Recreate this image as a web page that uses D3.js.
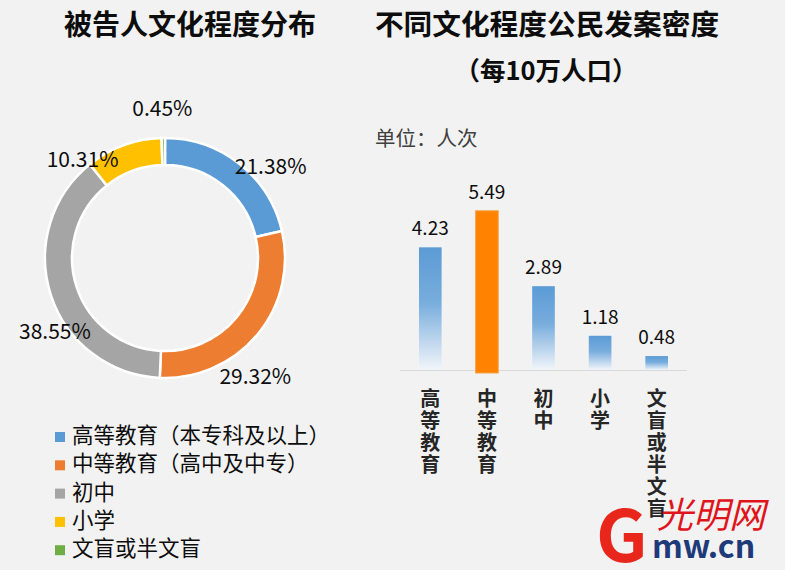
<!DOCTYPE html>
<html><head><meta charset="utf-8">
<script src="https://cdn.jsdelivr.net/npm/d3@7"></script>
<style>
html,body{margin:0;padding:0;background:#F2F2F2;}
svg{display:block;}
text{font-family:"Noto Sans CJK SC","Noto Sans",sans-serif;}
</style></head>
<body>
<svg id="c" width="785" height="570"></svg>
<script>
// ---------- data ----------
const pieCategories = ["高等教育（本专科及以上）","中等教育（高中及中专）","初中","小学","文盲或半文盲"];
const pieValues = [21.38, 29.32, 38.55, 10.31, 0.45];
const pieColors = ["#5B9BD5","#ED7D31","#A5A5A5","#FFC000","#70AD47"];

const barCategories = ["高等教育","中等教育","初中","小学","文盲或半文盲"];
const barValues = [4.23, 5.49, 2.89, 1.18, 0.48];
const barHighlight = [false, true, false, false, false];

const leftTitle = "被告人文化程度分布";
const rightTitle = "不同文化程度公民发案密度";
const rightSubtitle = "（每10万人口）";
const unitLabel = "单位：人次";

// ---------- drawing ----------
const svg = d3.select("#c");
svg.append("rect").attr("width",785).attr("height",570).attr("fill","#F2F2F2");

const defs = svg.append("defs");
const grad = defs.append("linearGradient").attr("id","blueGrad")
  .attr("x1",0).attr("y1",0).attr("x2",0).attr("y2",1);
grad.append("stop").attr("offset","0%").attr("stop-color","#5B9BD5");
grad.append("stop").attr("offset","45%").attr("stop-color","#78ADDD");
grad.append("stop").attr("offset","100%").attr("stop-color","#F2F5FA");

// titles
svg.append("text").attr("x",190).attr("y",35).attr("text-anchor","middle")
  .attr("font-size",28).attr("font-weight","bold").attr("fill","#0d0d0d").text(leftTitle);
svg.append("text").attr("x",547).attr("y",35).attr("text-anchor","middle")
  .attr("font-size",28.7).attr("font-weight","bold").attr("fill","#0d0d0d").text(rightTitle);
svg.append("text").attr("x",546).attr("y",80).attr("text-anchor","middle")
  .attr("font-size",25.5).attr("font-weight","bold").attr("fill","#0d0d0d").text(rightSubtitle);
svg.append("text").attr("x",375).attr("y",146)
  .attr("font-size",20.5).attr("fill","#404040").text(unitLabel);

// ---------- donut ----------
const cx = 165, cy = 258, rOuter = 120, rInner = 93;
const pie = d3.pie().sort(null).value(d => d)(pieValues);
const arc = d3.arc().innerRadius(rInner).outerRadius(rOuter);
const g = svg.append("g").attr("transform",`translate(${cx},${cy})`);
g.selectAll("path").data(pie).join("path")
  .attr("d",arc).attr("fill",(d,i)=>pieColors[i])
  .attr("stroke","#ffffff").attr("stroke-width",2.5);

// label placement (layout offsets, Excel best-fit style)
const labelArc = d3.arc().innerRadius(rOuter).outerRadius(rOuter);
const labelNudge = [[31,1],[-2,40],[4,35],[-41,13],[-1,-31]];
g.selectAll("text.pl").data(pie).join("text").attr("class","pl")
  .attr("x",(d,i)=>labelArc.centroid(d)[0]+labelNudge[i][0])
  .attr("y",(d,i)=>labelArc.centroid(d)[1]+labelNudge[i][1])
  .attr("text-anchor","middle").attr("dominant-baseline","central")
  .attr("font-family","'Noto Sans',sans-serif")
  .attr("font-size",21).attr("fill","#0d0d0d")
  .text(d=>d.data.toFixed(2)+"%");

// legend
const lg = svg.append("g");
pieCategories.forEach((c,i)=>{
  const by = 443 + i*28.3;
  lg.append("rect").attr("x",55).attr("y",by-11).attr("width",10).attr("height",10).attr("fill",pieColors[i]);
  lg.append("text").attr("x",72).attr("y",by).attr("font-size",21.5).attr("fill","#0d0d0d").text(c);
});

// ---------- bars ----------
const baseY = 370;
const x = d3.scaleBand().domain(barCategories).range([402,685]).paddingInner(0.6).paddingOuter(0.3);
const y = d3.scaleLinear().domain([0,6]).range([baseY, baseY-174]);

svg.append("line").attr("x1",400).attr("x2",687).attr("y1",baseY+0.5).attr("y2",baseY+0.5)
  .attr("stroke","#D9D9D9").attr("stroke-width",1);

svg.selectAll("rect.bar").data(barValues).join("rect").attr("class","bar")
  .attr("x",(d,i)=>x(barCategories[i]))
  .attr("width",x.bandwidth())
  .attr("y",d=>y(d))
  .attr("height",(d,i)=>baseY-y(d)+(barHighlight[i]?3:0))
  .attr("fill",(d,i)=>barHighlight[i]?"#FF8300":"url(#blueGrad)")
  .attr("stroke",(d,i)=>barHighlight[i]?"#F9A24A":"none")
  .attr("stroke-width",1);

svg.selectAll("text.bv").data(barValues).join("text").attr("class","bv")
  .attr("x",(d,i)=>x(barCategories[i])+x.bandwidth()/2)
  .attr("y",d=>y(d)-12)
  .attr("text-anchor","middle")
  .attr("font-family","'Noto Sans',sans-serif")
  .attr("font-size",19).attr("fill","#0d0d0d")
  .text(d=>d.toFixed(2));

// vertical category labels
barCategories.forEach((c,i)=>{
  const t = svg.append("text").attr("text-anchor","middle")
    .attr("font-size",20).attr("font-weight","bold").attr("fill","#262626");
  Array.from(c).forEach((ch,k)=>{
    t.append("tspan").attr("x",x(c)+x.bandwidth()/2).attr("y",406+k*22).text(ch);
  });
});

// watermark
const wm = svg.append("g");
wm.append("text").attr("x",596).attr("y",562).attr("font-size",72).attr("font-weight","bold")
  .attr("font-family","'DejaVu Sans',sans-serif").attr("fill","#E8261C").text("G");
wm.append("text").attr("x",657).attr("y",528).attr("font-size",36).attr("font-style","italic")
  .attr("fill","#E0141B").text("光明网");
wm.append("text").attr("x",652).attr("y",558).attr("font-size",32).attr("font-weight","bold")
  .attr("font-family","'DejaVu Sans',sans-serif").attr("fill","#1E3A78").text("mw.cn");
</script>
</body></html>
